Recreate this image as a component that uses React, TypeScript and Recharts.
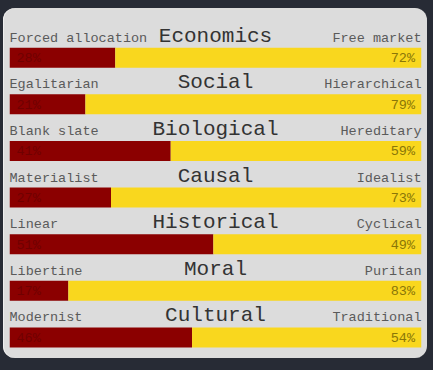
import React from "react";
import { BarChart, Bar, XAxis, YAxis, LabelList } from "recharts";

const categories = ["Economics", "Social", "Biological", "Causal", "Historical", "Moral", "Cultural"];
const leftLabels = ["Forced allocation", "Egalitarian", "Blank slate", "Materialist", "Linear", "Libertine", "Modernist"];
const rightLabels = ["Free market", "Hierarchical", "Hereditary", "Idealist", "Cyclical", "Puritan", "Traditional"];
const leftValues = [28, 21, 41, 27, 51, 17, 46];
const rightValues = [72, 79, 59, 73, 49, 83, 54];

const data = categories.map((name, i) => ({
  name,
  left: leftValues[i],
  right: rightValues[i],
  leftLabel: leftLabels[i],
  rightLabel: rightLabels[i],
}));

const W = 433;
const H = 370;
const M = { top: 34.7, bottom: 9, left: 9.5, right: 11.5 };
const PLOT_L = M.left;
const PLOT_R = W - M.right;
const MONO = "'Liberation Mono', 'Courier New', monospace";
const RED = "#8b0000";
const YELLOW = "#f9d71e";

const LeftContent = (props: any) => {
  const { x, y, height, index } = props;
  const d = data[index];
  const lx = Math.max(x, PLOT_L);
  const centerX = (PLOT_L + PLOT_R) / 2;
  return (
    <g>
      <text x={lx} y={y - 6} fontFamily={MONO} fontSize={13.5} fill="#5a5a5a" textAnchor="start">
        {d.leftLabel}
      </text>
      <text x={centerX} y={y - 6} fontFamily={MONO} fontSize={21} fill="#333" textAnchor="middle">
        {d.name}
      </text>
      <text x={lx + 7} y={y + height / 2 + 4.5} fontFamily={MONO} fontSize={13.5} fill="#700000" textAnchor="start">
        {d.left}%
      </text>
    </g>
  );
};

const RightContent = (props: any) => {
  const { x, y, width, height, index } = props;
  const d = data[index];
  const rx = Math.min(x + width, PLOT_R);
  return (
    <g>
      <text x={rx} y={y - 6} fontFamily={MONO} fontSize={13.5} fill="#5a5a5a" textAnchor="end">
        {d.rightLabel}
      </text>
      <text x={rx - 6.5} y={y + height / 2 + 4.5} fontFamily={MONO} fontSize={13.5} fill="#8a7608" textAnchor="end">
        {d.right}%
      </text>
    </g>
  );
};

export default function App() {
  return (
    <div style={{ position: "absolute", left: 0, top: 0, width: W, height: H, background: "#272b35", overflow: "hidden" }}>
      <div
        style={{
          position: "absolute",
          left: 3,
          top: 8,
          width: 424,
          height: 350,
          background: "#dcdcdc",
          borderRadius: 12,
          boxShadow: "inset 1px 0 0 #eeeeee",
        }}
      />
      <div style={{ position: "absolute", left: 0, top: 0 }}>
        <BarChart width={W} height={H} data={data} layout="vertical" margin={M} barSize={20}>
          <XAxis type="number" domain={[3.2, 99.8]} allowDataOverflow hide />
          <YAxis type="category" dataKey="name" hide />
          <Bar dataKey="left" stackId="a" fill={RED} isAnimationActive={false}>
            <LabelList dataKey="left" content={LeftContent} />
          </Bar>
          <Bar dataKey="right" stackId="a" fill={YELLOW} isAnimationActive={false}>
            <LabelList dataKey="right" content={RightContent} />
          </Bar>
        </BarChart>
      </div>
    </div>
  );
}
